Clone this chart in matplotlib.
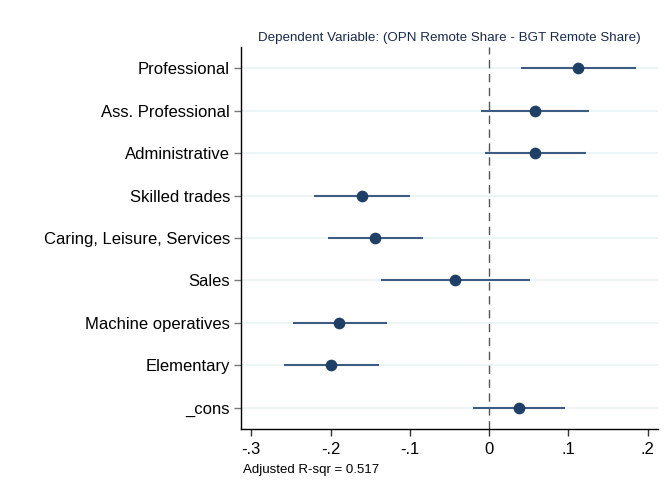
import matplotlib
matplotlib.use("Agg")
import matplotlib.pyplot as plt
import numpy as np

# coefficient plot data
labels = ["Professional", "Ass. Professional", "Administrative", "Skilled trades",
          "Caring, Leisure, Services", "Sales", "Machine operatives", "Elementary", "_cons"]
coef = [0.112, 0.058, 0.058, -0.160, -0.144, -0.0425, -0.189, -0.199, 0.0374]
ci_low = [0.040, -0.0097, -0.0055, -0.221, -0.203, -0.136, -0.248, -0.2585, -0.0206]
ci_high = [0.185, 0.126, 0.122, -0.0996, -0.084, 0.051, -0.129, -0.139, 0.0954]
xticks = [-0.3, -0.2, -0.1, 0, 0.1, 0.2]
xtick_labels = ["-.3", "-.2", "-.1", "0", ".1", ".2"]

plt.rcParams['font.family'] = ['Liberation Sans', 'DejaVu Sans']

fig = plt.figure(figsize=(6.65, 4.91), dpi=100)
ax = fig.add_axes([241 / 665, 1 - 429 / 491, (658 - 241) / 665, (429 - 47) / 491])

ypos = np.arange(1, len(labels) + 1)

for y in ypos:
    ax.axhline(y, color='#eaf2f3', lw=1.2, zorder=0)
ax.axvline(0, color='#555555', lw=1.0, ls=(0, (6, 4)), zorder=1)

ax.hlines(ypos, ci_low, ci_high, color='#3c5c82', lw=1.5, zorder=2)
ax.plot(coef, ypos, 'o', color='#1f3f66', ms=7.4, zorder=3)

ax.set_ylim(len(labels) + 0.5, 0.5)
ax.set_xlim(-0.313, 0.213)
ax.set_yticks(ypos)
ax.set_yticklabels(labels, fontsize=12)
ax.set_xticks(xticks)
ax.set_xticklabels(xtick_labels, fontsize=12)

for side in ['top', 'right']:
    ax.spines[side].set_visible(False)
ax.spines['left'].set_linewidth(1.0)
ax.spines['bottom'].set_linewidth(1.0)
ax.tick_params(axis='y', length=5, width=1, color='#777777', pad=3)
ax.tick_params(axis='x', length=5, width=1, color='#333333', pad=4)

ax.set_title("Dependent Variable: (OPN Remote Share - BGT Remote Share)",
             fontsize=9.6, color='#1a2a4a', pad=4)
fig.text(243 / 665, 1 - 470 / 491, "Adjusted R-sqr = 0.517", fontsize=9.5,
         ha='left', va='center')

fig.savefig("out.png", dpi=100)
